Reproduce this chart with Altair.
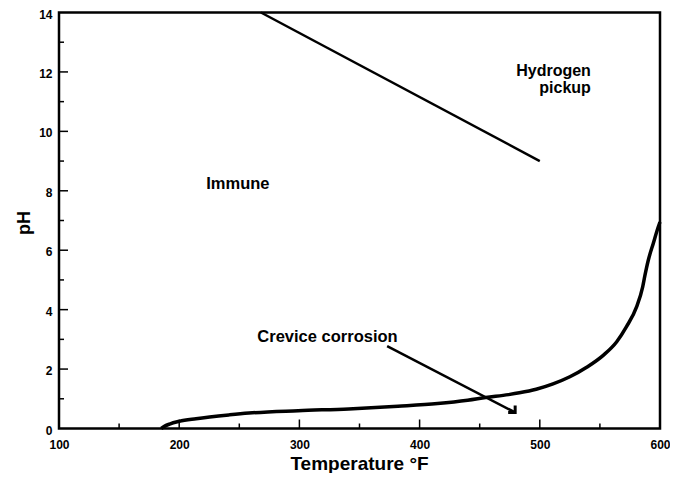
import altair as alt
import pandas as pd

# --- data ---
curve_T = [185, 188, 192, 200, 214, 242, 258, 299, 341, 382, 415, 440, 455, 474, 483, 497, 511, 525, 539,
           553, 564, 572, 580.6, 585.6, 587.5, 590.3, 594.4, 598.6, 600]
curve_pH = [0.0, 0.08, 0.15, 0.24, 0.33, 0.46, 0.52, 0.6, 0.66, 0.75, 0.84, 0.95, 1.04, 1.14, 1.2, 1.32, 1.5, 1.74, 2.06,
            2.47, 2.92, 3.42, 4.1, 4.77, 5.16, 5.67, 6.23, 6.79, 6.95]

hyd_T = [268, 500]
hyd_pH = [14.0, 9.0]

arrow_T = [373, 479.5]
arrow_pH = [2.77, 0.54]

left_labels = ["Immune", "Crevice corrosion"]
left_T = [222.5, 265]
left_pH = [8.22, 3.07]

right_labels = ["Hydrogen\npickup"]
right_T = [542.5]
right_pH = [12.04]

x_ticks_major = [200, 300, 400, 500]
x_ticks_minor = [150, 250, 350, 450, 550]
y_ticks_major = [2, 4, 6, 8, 10, 12]
y_ticks_minor = [1, 3, 5, 7, 9, 11, 13]

x_labels = [100, 200, 300, 400, 500, 600]
y_labels = [0, 2, 4, 6, 8, 10, 12, 14]

W, H = 601, 416
FONT = "Liberation Sans"

xs = alt.Scale(domain=[100, 600], nice=False, zero=False)
ys = alt.Scale(domain=[0, 14], nice=False, zero=False)


def X(**kw):
    return alt.X("T:Q", scale=xs, **kw)


def Y(**kw):
    return alt.Y("pH:Q", scale=ys, **kw)


curve = alt.Chart(pd.DataFrame({"T": curve_T, "pH": curve_pH})).mark_line(
    color="black", strokeWidth=3.5, interpolate="monotone"
).encode(
    x=X(title="Temperature °F",
        axis=alt.Axis(values=x_labels, titleX=300, titleY=35)),
    y=Y(title="pH",
        axis=alt.Axis(values=y_labels, titleX=-35, titleY=210, titleAngle=270)),
)

hyd = alt.Chart(pd.DataFrame({"T": hyd_T, "pH": hyd_pH})).mark_line(
    color="black", strokeWidth=2.5
).encode(x=X(), y=Y())

arrow = alt.Chart(pd.DataFrame({"T": arrow_T, "pH": arrow_pH})).mark_line(
    color="black", strokeWidth=2.5
).encode(x=X(), y=Y())

head = alt.Chart(pd.DataFrame({"T": arrow_T[-1:], "pH": arrow_pH[-1:]})).mark_point(
    shape="M0,-1L0,0L-1,0", size=196, filled=False, stroke="black",
    strokeWidth=3, opacity=1
).encode(x=X(), y=Y())

txt_left = alt.Chart(pd.DataFrame({"T": left_T, "pH": left_pH, "label": left_labels})).mark_text(
    align="left", baseline="middle", font=FONT, fontWeight="bold", fontSize=16.5, color="black"
).encode(x=X(), y=Y(), text="label:N")

txt_right = alt.Chart(pd.DataFrame({"T": right_T, "pH": right_pH, "label": right_labels})).mark_text(
    align="right", baseline="middle", font=FONT, fontWeight="bold", fontSize=16, color="black",
    lineBreak="\n", lineHeight=17
).encode(x=X(), y=Y(), text="label:N")

xt_major = alt.Chart(pd.DataFrame({"T": x_ticks_major})).mark_rule(
    color="black", strokeWidth=1.5
).encode(x=X(), y=alt.value(H), y2=alt.value(H - 9))

xt_minor = alt.Chart(pd.DataFrame({"T": x_ticks_minor})).mark_rule(
    color="black", strokeWidth=1.5
).encode(x=X(), y=alt.value(H), y2=alt.value(H - 5))

yt_major = alt.Chart(pd.DataFrame({"pH": y_ticks_major})).mark_rule(
    color="black", strokeWidth=1.5
).encode(y=Y(), x=alt.value(0), x2=alt.value(9))

yt_minor = alt.Chart(pd.DataFrame({"pH": y_ticks_minor})).mark_rule(
    color="black", strokeWidth=1.5
).encode(y=Y(), x=alt.value(0), x2=alt.value(5))

chart = alt.layer(
    curve, hyd, arrow, head, txt_left, txt_right,
    xt_major, xt_minor, yt_major, yt_minor
).properties(
    width=W, height=H,
    autosize=alt.AutoSizeParams(type="none"),
    padding={"left": 51, "top": 4.5, "right": 10, "bottom": 44.5},
    background="white",
).configure_view(
    stroke="black", strokeWidth=2.5
).configure_axis(
    domain=False, grid=False, ticks=False, tickSize=0, labelFlush=False,
    labelFont=FONT, labelFontWeight="bold", labelFontSize=12, labelColor="black",
    titleFont=FONT, titleFontWeight="bold", titleColor="black",
    titleAlign="center", titleBaseline="middle",
).configure_axisX(
    labelPadding=16, labelBaseline="middle", titleFontSize=19,
).configure_axisY(
    labelPadding=7, labelBaseline="middle", labelOffset=1.5, titleFontSize=18,
)

chart.save("out.html", embed_options={"renderer": "svg", "actions": False})
